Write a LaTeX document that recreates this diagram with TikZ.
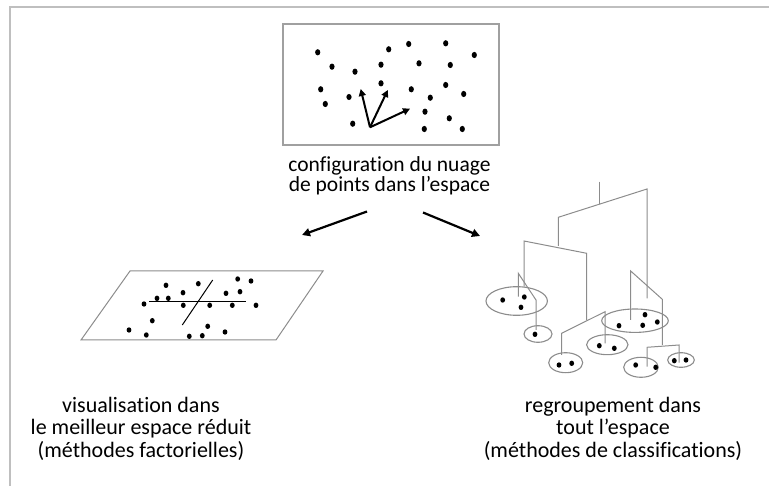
\documentclass[tikz,border=0pt]{standalone}
\usepackage{fontspec}
\setmainfont{Carlito}[Ligatures=CommonOff]
\usetikzlibrary{arrows.meta}
\definecolor{framegray}{HTML}{BFBFBF}
\definecolor{boxgray}{HTML}{A0A0A0}
\definecolor{linegray}{HTML}{8C8C8C}
\tikzset{
  frameline/.style={draw=framegray, line width=2pt},
  boxline/.style={draw=boxgray, line width=1.1pt},
  thinline/.style={draw=linegray, line width=1pt},
  dendro/.style={draw=linegray, line width=1pt},
  cluster/.style={draw=linegray, line width=1.1pt},
  bigarrow/.style={draw=black, line width=2.2pt, -{Triangle[length=8pt,width=8pt]}},
  vecarrow/.style={draw=black, line width=2pt, -{Triangle[length=7pt,width=7pt]}},
  toptxt/.style={anchor=base, inner sep=0pt, font=\fontsize{21.5}{21.5}\selectfont},
  bottxt/.style={anchor=base, inner sep=0pt, font=\fontsize{22}{22}\selectfont},
}
\newcommand{\bdot}[2]{\fill (#1,#2) ellipse [x radius=2.6, y radius=3.1];}
\newcommand{\sdot}[2]{\fill (#1,#2) ellipse [x radius=2.4, y radius=2.7];}
\begin{document}
\begin{tikzpicture}[x=1pt,y=-1pt]
\useasboundingbox (0,0) rectangle (769,486);
% outer frame
\draw[frameline] (10,490) -- (10,7) -- (775,7);
% top box
\node[boxline, minimum width=216pt, minimum height=121pt, inner sep=0pt] (cloud) at (391,84.5) {};
\foreach \x/\y in {317.7/52.3,332/66.7,355/71.7,381/64.7,388.7/49.3,408.7/44,419/63.3,445.7/43.3,450.3/65,474.3/55,320.7/89.3,325.3/104,349/97,381/83.3,411.3/89.3,430.3/97.7,445.7/85,463.7/94,425/111.7,352.7/123.7,424.3/129,449.3/118.3,462.3/129}
  {\bdot{\x}{\y}}
\coordinate (o) at (370,127.3);
\coordinate (v1) at (360.7,89);
\coordinate (v2) at (387.8,90);
\coordinate (v3) at (410,108.7);
\draw[vecarrow] (o) -- (v1);
\draw[vecarrow] (o) -- (v2);
\draw[vecarrow] (o) -- (v3);
\node[toptxt] (top1) at (389.5,172) {configuration du nuage};
\node[toptxt] (top2) at (389.5,192) {de points dans l’espace};
% arrows
\coordinate (a1s) at (367,211.5);
\coordinate (a1e) at (302,235);
\coordinate (a2s) at (423,212.5);
\coordinate (a2e) at (480,236);
\draw[bigarrow] (a1s) -- (a1e);
\draw[bigarrow] (a2s) -- (a2e);
% parallelogram
\draw[thinline] (130,271) coordinate (p1) -- (323,271) coordinate (p2) -- (276,340) coordinate (p3) -- (81,340) coordinate (p4) -- cycle;
\draw[black, line width=1.3pt] (149,301.3) coordinate (h1) -- (245.7,301.3) coordinate (h2);
\draw[black, line width=1pt] (212.7,280) coordinate (s1) -- (182.3,325) coordinate (s2);
\foreach \x/\y in {166/285.3,198.3/283.7,237.7/279,251/281,157/298.3,168.3/298.3,183/292.7,226/293.3,240/291.7,144/304,183.3/305.3,209.7/305.3,232.3/305.3,256/305.3,152.3/320.7,129/330,146.3/335,189.3/336.3,202.3/335.7,207.7/326.3,225/332}
  {\sdot{\x}{\y}}
\node[bottxt] (l1) at (141,413) {visualisation dans};
\node[bottxt] (l2) at (141,435) {le meilleur espace réduit};
\node[bottxt] (l3) at (141,457) {(méthodes factorielles)};
% dendrogram
\draw[dendro] (599,181.7) -- (599,204);
\draw[dendro] (558.3,246) -- (558.3,217.3) -- (647,189) -- (647,298.3);
\draw[dendro] (524,286.7) -- (524,241) -- (586.7,253.3) -- (586.7,320);
\draw[dendro] (518.3,296.7) -- (518.3,273.3) -- (536,300) -- (536,330);
\draw[dendro] (561.7,355) -- (561.7,333.3) -- (605,311.7) -- (605,343.3);
\draw[dendro] (630.7,320) -- (630.7,271) -- (662.3,299.3) -- (662.3,345);
\draw[dendro] (647,366.7) -- (647,347.3) -- (679,345) -- (679,362.7);
% clusters
\draw[cluster] (516.7,301) ellipse [x radius=30.7, y radius=14.3];
\draw[cluster] (538,334) ellipse [x radius=14, y radius=8.3];
\draw[cluster] (565.7,362.7) ellipse [x radius=17, y radius=10];
\draw[cluster] (607.3,344.7) ellipse [x radius=20.7, y radius=10];
\draw[cluster] (635,320.7) ellipse [x radius=33.3, y radius=11.7];
\draw[cluster] (641,367.3) ellipse [x radius=17.3, y radius=10];
\draw[cluster] (681,360) ellipse [x radius=13.3, y radius=7.3];
\foreach \x/\y in {502.7/300,524.3/297,521/307.3,535/334.3,559/365,571.7/363.3,599.3/345.7,614.3/348.3,645/314.7,619/325.7,642.7/325.3,657.3/322,635.7/365,655.7/367.3,674.3/360.7,686/360}
  {\sdot{\x}{\y}}
\node[bottxt] (r1) at (613,413) {regroupement dans};
\node[bottxt] (r2) at (613,435) {tout l’espace};
\node[bottxt] (r3) at (613,457) {(méthodes de classifications)};
\end{tikzpicture}
\end{document}
